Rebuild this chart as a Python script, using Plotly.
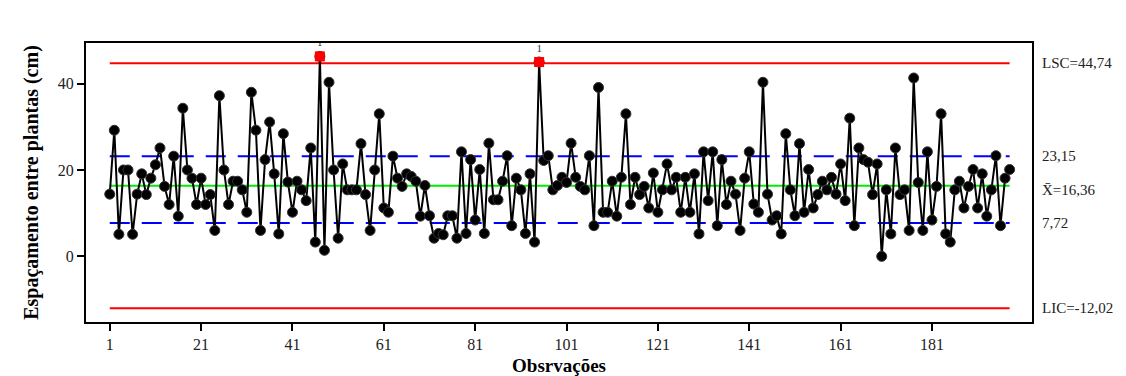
import plotly.graph_objects as go

# Data
values = [
    14.4, 29.2, 5.1, 20.0, 20.0, 5.1, 14.4, 19.1, 14.3, 18.1,
    21.2, 25.1, 16.2, 12.0, 23.2, 9.3, 34.3, 20.0, 18.1, 12.0,
    18.1, 12.0, 14.3, 6.0, 37.2, 20.0, 12.0, 17.4, 17.4, 15.4,
    10.2, 38.0, 29.2, 6.0, 22.4, 31.1, 19.1, 5.2, 28.4, 17.2,
    10.2, 17.4, 15.4, 12.9, 25.1, 3.3, 46.3, 1.4, 40.3, 20.0,
    4.2, 21.4, 15.4, 15.4, 15.4, 26.1, 14.3, 6.0, 20.0, 33.0,
    11.2, 10.2, 23.2, 18.1, 16.2, 19.1, 18.5, 17.4, 9.3, 16.4,
    9.4, 4.2, 5.3, 5.0, 9.4, 9.4, 4.2, 24.2, 5.3, 22.4,
    8.4, 20.1, 5.3, 26.2, 13.1, 13.1, 17.4, 23.3, 7.1, 18.1,
    15.4, 5.3, 19.1, 3.3, 45.0, 22.2, 23.3, 15.4, 16.4, 18.3,
    17.1, 26.2, 18.3, 16.2, 15.4, 23.3, 7.1, 39.1, 10.2, 10.2,
    17.4, 9.3, 18.3, 33.0, 12.0, 18.3, 14.3, 16.2, 11.2, 19.3,
    10.2, 15.4, 21.4, 15.4, 18.3, 10.2, 18.3, 10.2, 19.1, 5.2,
    24.2, 12.9, 24.2, 7.1, 22.4, 12.0, 17.4, 14.4, 6.0, 18.1,
    24.2, 12.1, 10.2, 40.3, 14.4, 8.4, 9.4, 5.2, 28.4, 15.4,
    9.4, 26.1, 10.2, 20.1, 11.2, 14.3, 17.4, 15.4, 18.3, 14.4,
    21.4, 12.9, 32.0, 7.1, 25.1, 22.4, 21.8, 14.3, 21.4, 0.0,
    15.4, 5.2, 25.1, 14.3, 15.4, 6.0, 41.3, 17.1, 6.0, 24.2,
    8.4, 16.2, 33.0, 5.2, 3.3, 15.4, 17.4, 11.2, 16.2, 20.1,
    11.2, 19.1, 9.3, 15.4, 23.3, 7.1, 18.1, 20.1,
]
obs = list(range(1, len(values) + 1))

LSC = 44.74
upper_2s = 23.15
mean = 16.36
lower_2s = 7.72
LIC = -12.02

x_ticks = list(range(1, 182, 20))
y_ticks = [0, 20, 40]

limit_labels = ["LSC=44,74", "23,15", "X\u0304=16,36", "7,72", "LIC=-12,02"]
limit_values = [LSC, upper_2s, mean, lower_2s, LIC]

serif = "Liberation Serif, Times New Roman, serif"

fig = go.Figure()
n = len(values)
xs = [1, n]

fig.add_trace(go.Scatter(x=xs, y=[LSC, LSC], mode="lines",
                         line=dict(color="#FF0000", width=2), hoverinfo="skip"))
fig.add_trace(go.Scatter(x=xs, y=[LIC, LIC], mode="lines",
                         line=dict(color="#FF0000", width=2), hoverinfo="skip"))
fig.add_trace(go.Scatter(x=xs, y=[mean, mean], mode="lines",
                         line=dict(color="#00EE00", width=2), hoverinfo="skip"))
for v in (upper_2s, lower_2s):
    fig.add_trace(go.Scatter(x=xs, y=[v, v], mode="lines",
                             line=dict(color="#0000FF", width=2, dash="20px,12px"),
                             hoverinfo="skip"))

fig.add_trace(go.Scatter(x=obs, y=values, mode="lines+markers",
                         line=dict(color="black", width=2),
                         marker=dict(color="black", size=10, symbol="circle",
                                     line=dict(color="#333", width=1))))

out_x = [o for o, v in zip(obs, values) if v > LSC]
out_y = [v for v in values if v > LSC]
fig.add_trace(go.Scatter(x=out_x, y=out_y, mode="markers+text",
                         marker=dict(color="#FF0000", size=10, symbol="square"),
                         text=["1"] * len(out_x), textposition="top center",
                         textfont=dict(family=serif, size=11, color="#333")))

for lab, v in zip(limit_labels, limit_values):
    yshift = -4 if lab.startswith("X") else 0
    fig.add_annotation(x=1, xref="paper", y=v, yref="y", text=lab,
                       showarrow=False, xanchor="left", xshift=8, yshift=yshift,
                       font=dict(family=serif, size=15, color="#222"))

fig.update_layout(
    width=1126, height=376,
    margin=dict(l=78, r=102, t=35, b=62),
    paper_bgcolor="white", plot_bgcolor="white",
    showlegend=False,
    xaxis=dict(range=[-4.2, 202.9], tickvals=x_ticks, ticks="outside", ticklen=7,
               tickwidth=2, tickcolor="black", showline=True, linewidth=2,
               linecolor="black", mirror=True, showgrid=False, zeroline=False,
               tickfont=dict(family=serif, size=16, color="#222"),
               title=dict(text="<b>Obsrvações</b>", standoff=6,
                          font=dict(family=serif, size=19, color="black"))),
    yaxis=dict(range=[-15.2, 49.4], tickvals=y_ticks, ticks="outside", ticklen=7,
               tickwidth=2, tickcolor="black", showline=True, linewidth=2,
               linecolor="black", mirror=True, showgrid=False, zeroline=False,
               tickfont=dict(family=serif, size=16, color="#222"),
               title=dict(text="<b>Espaçamento entre plantas (cm)</b>", standoff=14,
                          font=dict(family=serif, size=20, color="black"))),
)

fig.write_html("out.html")
